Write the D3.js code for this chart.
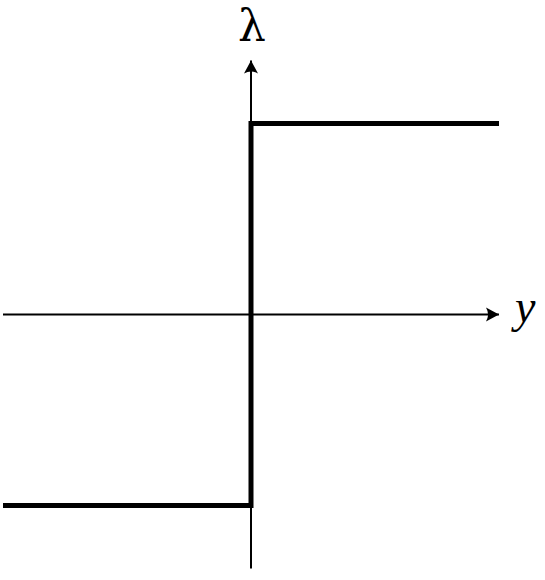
<!DOCTYPE html>
<html>
<head>
<meta charset="utf-8">
<script src="https://cdn.jsdelivr.net/npm/d3@7"></script>
<style>
  html, body { margin: 0; padding: 0; background: #fff; }
  svg { display: block; }
</style>
</head>
<body>
<div id="chart"></div>
<script>
// step function lambda(y): -1 for y < 0, +1 for y > 0
const stepY = [-1, 0, 0, 1];
const stepLambda = [-1, -1, 1, 1];

// axis extents in data units
const xAxisExtent = [-1, 1];
const yAxisExtent = [-1.33, 1.33];

const axisLabels = { x: "y", y: "λ" };

const width = 545, height = 580;

const x = d3.scaleLinear().domain([-1, 1]).range([3, 499]);
const y = d3.scaleLinear().domain([-1, 1]).range([505.5, 123.5]);

const svg = d3.select("#chart")
    .append("svg")
    .attr("width", width)
    .attr("height", height);

// arrowhead drawn in user units, tip at marker origin
svg.append("defs").append("marker")
    .attr("id", "arrow")
    .attr("markerUnits", "userSpaceOnUse")
    .attr("viewBox", "-14 -8 16 16")
    .attr("refX", 0)
    .attr("refY", 0)
    .attr("markerWidth", 16)
    .attr("markerHeight", 16)
    .attr("orient", "auto")
    .append("path")
    .attr("d", "M0,0 L-13,-7 Q-9,0 -13,7 Z")
    .attr("fill", "black");

// horizontal axis
svg.append("line")
    .attr("x1", x(xAxisExtent[0]))
    .attr("y1", y(0))
    .attr("x2", x(xAxisExtent[1]))
    .attr("y2", y(0))
    .attr("stroke", "black")
    .attr("stroke-width", 2)
    .attr("marker-end", "url(#arrow)");

// vertical axis
svg.append("line")
    .attr("x1", x(0))
    .attr("y1", y(yAxisExtent[0]))
    .attr("x2", x(0))
    .attr("y2", y(yAxisExtent[1]))
    .attr("stroke", "black")
    .attr("stroke-width", 2)
    .attr("marker-end", "url(#arrow)");

// step curve
const line = d3.line()
    .x(d => x(d[0]))
    .y(d => y(d[1]));

svg.append("path")
    .datum(d3.zip(stepY, stepLambda))
    .attr("d", line)
    .attr("fill", "none")
    .attr("stroke", "black")
    .attr("stroke-width", 5)
    .attr("stroke-linejoin", "miter");

// axis labels
svg.append("text")
    .attr("x", x(xAxisExtent[1]) + 16)
    .attr("y", y(0) + 7)
    .style("font-family", "'Liberation Serif', serif")
    .style("font-style", "italic")
    .style("font-size", "46px")
    .text(axisLabels.x);

svg.append("text")
    .attr("x", x(0) + 1)
    .attr("y", 41)
    .attr("text-anchor", "middle")
    .style("font-family", "'DejaVu Serif', serif")
    .style("font-size", "44px")
    .text(axisLabels.y);
</script>
</body>
</html>
